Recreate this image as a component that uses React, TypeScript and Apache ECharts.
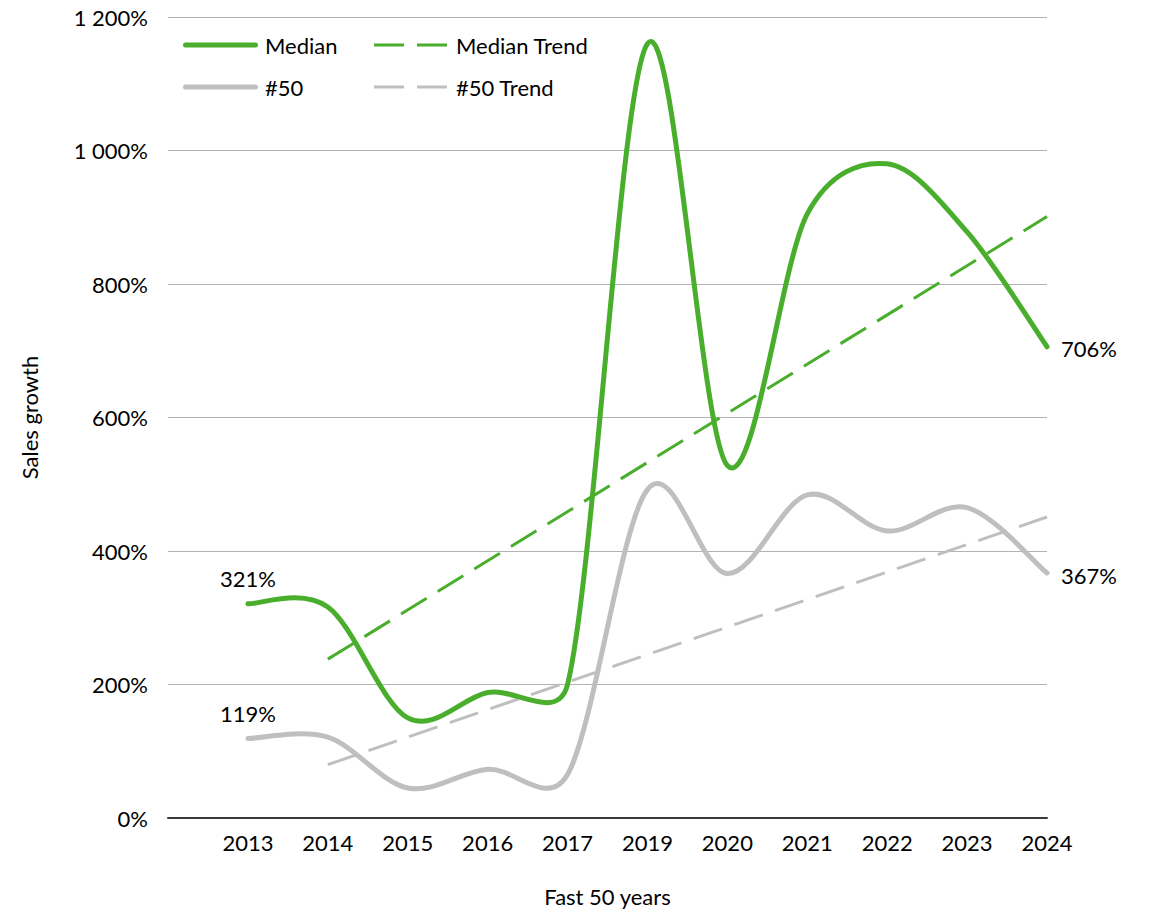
import React, { useEffect, useRef } from "react";
import * as echarts from "echarts";

const years = ["", "2013", "2014", "2015", "2016", "2017", "2019", "2020", "2021", "2022", "2023", "2024"];
const medianValues = [null, 321, 316, 150, 188, 200, 1160, 528, 905, 980, 878, 706];
const top50Values = [null, 119, 121, 45, 73, 65, 492, 366, 484, 430, 465, 367];
const medianTrendValues = [null, null, 238, null, null, null, null, null, null, null, null, 901];
const top50TrendValues = [null, null, 80, null, null, null, null, null, null, null, null, 451];

const GREEN = "#48AE2C";
const GRAY = "#BFBFBF";
const FONT = "Lato";

const SOLID_ICON = "path://M2.5,0 H72.5 A2.5,2.5 0 0 1 72.5,5 H2.5 A2.5,2.5 0 0 1 2.5,0 Z";
const DASH_ICON = "path://M0,0 H30 V3 H0 Z M43,0 H73 V3 H43 Z";

function fmtPct(v: number): string {
  const s = String(Math.round(v));
  return s.replace(/\B(?=(\d{3})+(?!\d))/g, " ") + "%";
}

// Excel-like smoothed curve through the points (Bezier, tension 1/6, clamped)
function smoothPathData(api: any, values: (number | null)[]): { d: string; first: number[]; last: number[]; firstV: number; lastV: number } {
  const pts: number[][] = [];
  const vals: number[] = [];
  values.forEach((v, i) => {
    if (v != null) {
      pts.push(api.coord([i, v]));
      vals.push(v);
    }
  });
  const dist = (a: number[], b: number[]) => Math.hypot(b[0] - a[0], b[1] - a[1]);
  let d = `M${pts[0][0]},${pts[0][1]}`;
  for (let i = 0; i < pts.length - 1; i++) {
    const p0 = pts[Math.max(i - 1, 0)];
    const p1 = pts[i];
    const p2 = pts[i + 1];
    const p3 = pts[Math.min(i + 2, pts.length - 1)];
    const d12 = dist(p1, p2);
    const d02 = dist(p0, p2);
    const d13 = dist(p1, p3);
    let f1 = 1 / 6;
    if (d02 / 6 > d12 / 2 && d02 > 0) f1 = d12 / 2 / d02;
    let f2 = 1 / 6;
    if (d13 / 6 > d12 / 2 && d13 > 0) f2 = d12 / 2 / d13;
    const c1 = [p1[0] + (p2[0] - p0[0]) * f1, p1[1] + (p2[1] - p0[1]) * f1];
    const c2 = [p2[0] - (p3[0] - p1[0]) * f2, p2[1] - (p3[1] - p1[1]) * f2];
    d += ` C${c1[0]},${c1[1]} ${c2[0]},${c2[1]} ${p2[0]},${p2[1]}`;
  }
  return { d, first: pts[0], last: pts[pts.length - 1], firstV: vals[0], lastV: vals[vals.length - 1] };
}

function curveSeries(name: string, values: (number | null)[], color: string, z: number) {
  return {
    name,
    type: "custom",
    coordinateSystem: "cartesian2d",
    data: [[1, values[1]]],
    z,
    itemStyle: { color },
    renderItem: (params: any, api: any) => {
      const r = smoothPathData(api, values);
      const textStyle = { fill: "#000", fontFamily: FONT, fontSize: 22 };
      return {
        type: "group",
        children: [
          {
            type: "path",
            shape: { pathData: r.d },
            style: { fill: "none", stroke: color, lineWidth: 5, lineCap: "round", lineJoin: "round" },
          },
          {
            type: "text",
            x: r.first[0],
            y: r.first[1] - 14,
            style: { ...textStyle, text: fmtPct(r.firstV), align: "center", verticalAlign: "bottom" },
          },
          {
            type: "text",
            x: r.last[0] + 14,
            y: r.last[1] + 2,
            style: { ...textStyle, text: fmtPct(r.lastV), align: "left", verticalAlign: "middle" },
          },
        ],
      };
    },
  };
}

export default function App() {
  const ref = useRef<HTMLDivElement>(null);
  useEffect(() => {
    document.body.style.margin = "0";
    if (!ref.current) return;
    const chart = echarts.init(ref.current, undefined, { renderer: "svg" });
    const legendText = { color: "#000", fontFamily: FONT, fontSize: 22, lineHeight: 22, padding: [0, 0, 0, 2] };
    chart.setOption({
      animation: false,
      textStyle: { fontFamily: FONT },
      grid: { left: 168, right: 108, top: 17, bottom: 87, containLabel: false },
      legend: [
        {
          data: [
            { name: "Median", icon: SOLID_ICON },
            { name: "#50", icon: SOLID_ICON },
          ],
          orient: "vertical",
          left: 178,
          top: 29,
          itemWidth: 75,
          itemHeight: 5,
          itemGap: 20,
          textStyle: legendText,
        },
        {
          data: [
            { name: "Median Trend", icon: DASH_ICON },
            { name: "#50 Trend", icon: DASH_ICON },
          ],
          orient: "vertical",
          left: 369,
          top: 29,
          itemWidth: 73,
          itemHeight: 3,
          itemGap: 20,
          textStyle: { ...legendText, padding: [0, 0, 0, 4] },
        },
      ],
      xAxis: {
        type: "category",
        data: years,
        boundaryGap: false,
        name: "Fast 50 years",
        nameLocation: "middle",
        nameGap: 67,
        nameTextStyle: { color: "#000", fontFamily: FONT, fontSize: 22 },
        axisLine: { show: true, lineStyle: { color: "#3a3a3a", width: 2 } },
        axisTick: { show: false },
        axisLabel: { interval: 0, margin: 13, color: "#000", fontFamily: FONT, fontSize: 22 },
        splitLine: { show: false },
      },
      yAxis: {
        type: "value",
        min: 0,
        max: 1200,
        interval: 200,
        name: "Sales growth",
        nameLocation: "middle",
        nameGap: 128,
        nameRotate: 90,
        nameTextStyle: { color: "#000", fontFamily: FONT, fontSize: 22 },
        axisLine: { show: false },
        axisTick: { show: false },
        axisLabel: { margin: 20, color: "#000", fontFamily: FONT, fontSize: 22, formatter: (v: number) => fmtPct(v) },
        splitLine: { show: true, lineStyle: { color: "#B3B3B3", width: 1 } },
      },
      series: [
        curveSeries("#50", top50Values, GRAY, 2),
        {
          name: "#50 Trend",
          type: "line",
          data: top50TrendValues,
          connectNulls: true,
          symbol: "none",
          z: 3,
          itemStyle: { color: GRAY },
          lineStyle: { color: GRAY, width: 3, type: [30, 13] },
        },
        curveSeries("Median", medianValues, GREEN, 4),
        {
          name: "Median Trend",
          type: "line",
          data: medianTrendValues,
          connectNulls: true,
          symbol: "none",
          z: 5,
          itemStyle: { color: GREEN },
          lineStyle: { color: GREEN, width: 3, type: [30, 13] },
        },
      ],
    });
    return () => chart.dispose();
  }, []);
  return <div ref={ref} style={{ width: 1155, height: 912 }} />;
}
